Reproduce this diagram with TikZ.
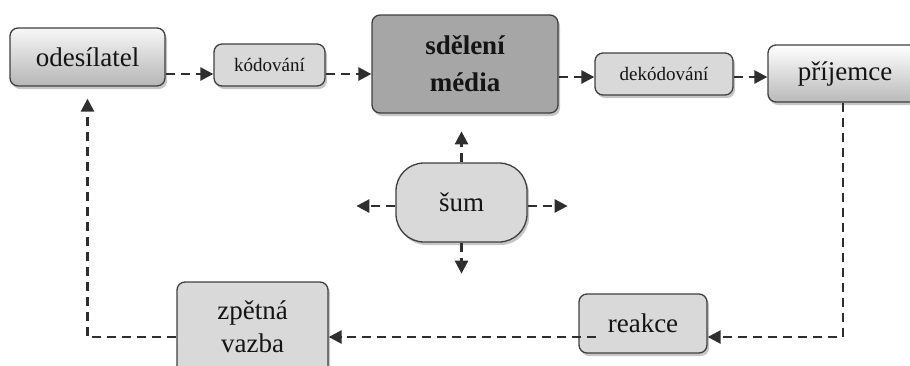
\documentclass[tikz,border=0pt]{standalone}
\usepackage{fontspec}
\setmainfont{Liberation Serif}
\usetikzlibrary{arrows.meta,shadows}
\definecolor{boxline}{HTML}{3F3F3F}
\definecolor{lightfill}{HTML}{D9D9D9}
\definecolor{midfill}{HTML}{A6A6A6}
\definecolor{arrowline}{HTML}{2E2E2E}
\definecolor{txt}{HTML}{141414}
\tikzset{
  x=1pt, y=-1pt,
  basebox/.style={draw=boxline, line width=1.3pt, rounded corners=8pt, inner sep=0pt,
    text=txt, drop shadow={shadow xshift=2pt, shadow yshift=-3pt, opacity=.45, fill=gray}},
  bigtext/.style={font=\fontsize{27}{33}\selectfont},
  smalltext/.style={font=\fontsize{19}{23}\selectfont},
  flow/.style={draw=arrowline, line width=2.6pt, dash pattern=on 9pt off 6pt,
    -{Triangle[length=13pt,width=13pt]}}
}
\begin{document}
\begin{tikzpicture}
\useasboundingbox (0,0) rectangle (910,365);
% nodes
\node[basebox, bigtext, top color=gray!6, bottom color=gray!58, minimum width=155pt, minimum height=58pt] (odes) at (87.5,57) {odesílatel};
\node[basebox, smalltext, fill=lightfill, minimum width=111pt, minimum height=42pt] (kod) at (269.5,65) {kódování};
\node[basebox, fill=midfill, minimum width=186pt, minimum height=98pt, align=center, font=\fontsize{27}{37}\selectfont\bfseries] (sdel) at (465,64) {sdělení\\média};
\node[basebox, smalltext, fill=lightfill, minimum width=138pt, minimum height=42pt] (dek) at (664,74) {dekódování};
\node[basebox, bigtext, top color=white, bottom color=gray!55, minimum width=154pt, minimum height=57pt] (prij) at (845,73.5) {příjemce};
\node[basebox, bigtext, fill=lightfill, rounded corners=28pt, minimum width=131pt, minimum height=79pt] (sum) at (461.5,202.5) {šum};
\node[basebox, bigtext, fill=lightfill, minimum width=128pt, minimum height=59pt] (reak) at (643,323.5) {reakce};
\node[basebox, fill=lightfill, minimum width=151pt, minimum height=100pt] (zv) at (252.5,332) {};
\node[text=txt, align=center, anchor=north, inner sep=0pt, font=\fontsize{27}{33}\selectfont] (zvt) at (252.5,301) {zpětná\\vazba};
% top row connectors
\draw[flow] ([yshift=-17pt]odes.east) -- ([yshift=-9pt]kod.west);
\draw[flow] ([yshift=-9pt]kod.east) -- ([yshift=-10pt]sdel.west);
\draw[flow] ([yshift=-13pt]sdel.east) -- ([yshift=-3pt]dek.west);
\draw[flow] ([yshift=-3pt]dek.east) -- ([yshift=-3.5pt]prij.west);
% feedback loop
\draw[flow] ([xshift=-2pt]prij.south) |- ([yshift=-13.5pt]reak.east);
\draw[flow] ([xshift=18pt,yshift=-13.5pt]reak.west) -- ([yshift=-5pt]zv.east);
\draw[flow] ([yshift=-5pt]zv.west) -| ([yshift=-12pt]odes.south);
% noise arrows
\draw[flow] (sum.north) -- ([yshift=31pt]sum.north);
\draw[flow] ([yshift=-3.5pt]sum.west) -- ([xshift=-39pt,yshift=-3.5pt]sum.west);
\draw[flow] ([yshift=-3.5pt]sum.east) -- ([xshift=40pt,yshift=-3.5pt]sum.east);
\draw[flow] (sum.south) -- ([yshift=-31pt]sum.south);
\end{tikzpicture}
\end{document}
